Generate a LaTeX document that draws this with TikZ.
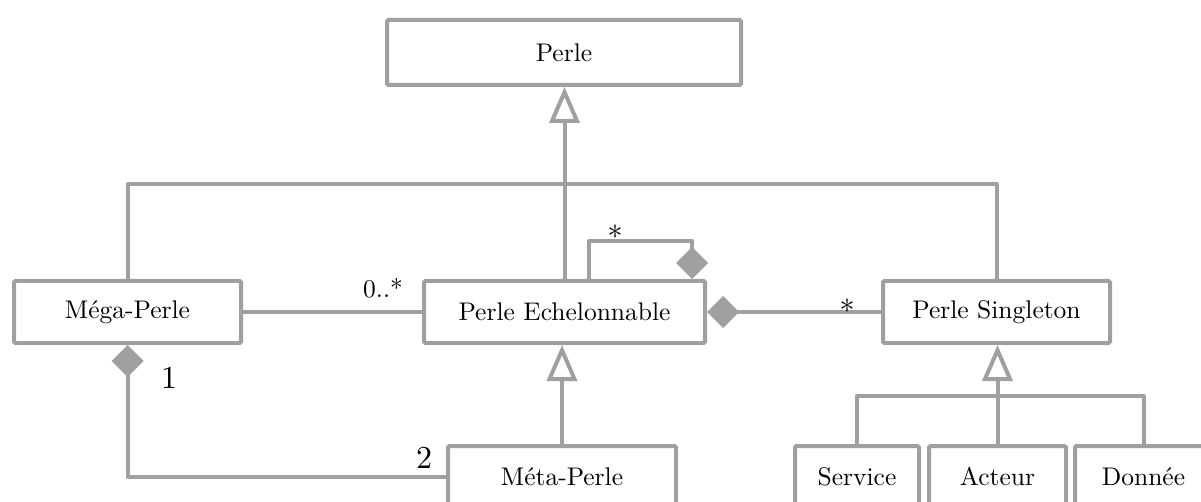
\documentclass[tikz,border=0pt]{standalone}
\usetikzlibrary{arrows.meta}
\definecolor{lg}{RGB}{160,160,160}
\newcommand\bxt[1]{\scalebox{2.55}{#1}}
\newcommand\astx[1]{\scalebox{3}{#1}}
\newcommand\bgt[1]{\scalebox{3.2}{#1}}
\begin{document}
\begin{tikzpicture}[x=1pt,y=-1pt,
  box/.style={draw=lg, line width=4pt, rounded corners=1.5pt, fill=white, inner sep=0pt,
    minimum height=62pt},
  conn/.style={draw=lg, line width=4pt, line join=round},
  gen/.style={conn, -{Triangle[open, length=36pt, width=30pt, line width=4pt]}},
  compend/.style={conn, -{Diamond[length=32pt, width=32pt, line width=0pt, fill=lg]}},
  compstart/.style={conn, {Diamond[length=32pt, width=32pt, line width=0pt, fill=lg]}-},
  mult/.style={anchor=base, inner sep=0pt}]
\clip (0,0) rectangle (1201,502);
\useasboundingbox (0,0) rectangle (1201,502);
% boxes
\node[box, minimum width=354pt, minimum height=65pt] (perle) at (564,52.5) {\bxt{Perle}};
\node[box, minimum width=227pt] (mega) at (127.5,312) {\bxt{Méga-Perle}};
\node[box, minimum width=281pt] (eche) at (564.5,312) {\bxt{Perle Echelonnable}};
\node[box, minimum width=227pt] (single) at (996.5,312) {\bxt{Perle Singleton}};
\node[box, minimum width=228pt] (meta) at (562,477) {\bxt{Méta-Perle}};
\node[box, minimum width=124pt] (service) at (857,477) {\bxt{Service}};
\node[box, minimum width=137pt] (acteur) at (997.5,477) {\bxt{Acteur}};
\node[box, minimum width=137pt] (donnee) at (1143.5,477) {\bxt{Donnée}};
% helper levels
\coordinate (hb) at (0,184);
\coordinate (hb2) at (0,396);
\coordinate (lt) at (0,241);
% generalisations to Perle
\draw[gen] (eche.north) -- (eche.north |- perle.south);
\draw[conn] (mega.north) -- (mega.north |- hb) -- (single.north |- hb) -- (single.north);
% Meta-Perle generalisation
\draw[gen] (meta.north) -- (meta.north |- eche.south);
% Singleton specialisations
\draw[conn] (service.north) -- (service.north |- hb2) -- (donnee.north |- hb2) -- (donnee.north);
\draw[gen] (acteur.north) -- (acteur.north |- single.south);
% associations
\draw[conn] (mega.east) -- (eche.west);
\draw[compstart] (eche.east) -- (single.west);
\draw[compend] ([xshift=24pt]eche.north) |- ([xshift=-15pt]eche.north east |- lt) -- ([xshift=-15pt]eche.north east);
\draw[compstart] (mega.south) |- (meta.west);
% multiplicities
\node[mult] (m0) at (383,298) {\bxt{0..*}};
\node[mult] (m1) at (847,321) {\astx{*}};
\node[mult] (m2) at (615,248) {\astx{*}};
\node[mult] (m3) at (169,388) {\bgt{1}};
\node[mult] (m4) at (424,468) {\bgt{2}};
\end{tikzpicture}
\end{document}
